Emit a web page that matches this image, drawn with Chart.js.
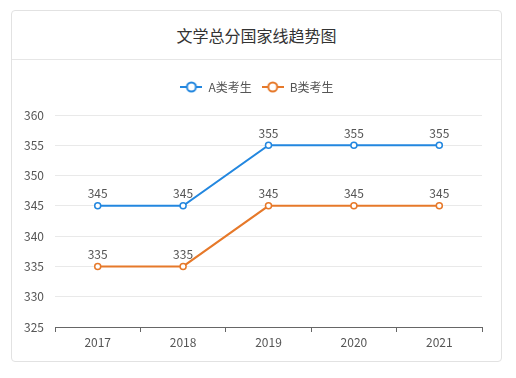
<!DOCTYPE html>
<html>
<head>
<meta charset="utf-8">
<script src="https://cdn.jsdelivr.net/npm/chart.js@4"></script>
<style>
  html, body { margin: 0; padding: 0; background: #fff; }
  body { width: 516px; height: 378px; position: relative; overflow: hidden; font-family: "Noto Sans CJK SC", sans-serif; }
  #card { position: absolute; left: 11px; top: 10px; width: 489px; height: 350px; border: 1px solid #e2e2e2; border-radius: 4px; }
  #title { height: 48px; line-height: 48px; text-align: center; font-size: 16px; color: #333; border-bottom: 1px solid #e6e6e6; }
  #wrap { position: absolute; left: 0; top: 49px; width: 489px; height: 301px; }
</style>
</head>
<body>
<div id="card">
  <div id="title">文学总分国家线趋势图</div>
  <div id="wrap"><canvas id="chart" width="489" height="301"></canvas></div>
</div>
<script>
// chart data
var years = ["2017", "2018", "2019", "2020", "2021"];
var seriesNames = ["A类考生", "B类考生"];
var scoresA = [345, 345, 355, 355, 355];
var scoresB = [335, 335, 345, 345, 345];
var colours = ["#2387df", "#e6792a"];

// legend icon: short line with a hollow circle in the middle
function legendIcon(col){
  var c = document.createElement("canvas");
  c.width = 22; c.height = 12;
  var ctx = c.getContext("2d");
  ctx.strokeStyle = col;
  ctx.lineWidth = 2;
  ctx.beginPath(); ctx.moveTo(0, 6); ctx.lineTo(22, 6); ctx.stroke();
  ctx.fillStyle = "#fff";
  ctx.beginPath(); ctx.arc(11, 6, 4.5, 0, Math.PI * 2); ctx.fill(); ctx.stroke();
  return c;
}

// draw the value above each point
var valueLabels = {
  id: "valueLabels",
  afterDatasetsDraw: function(chart){
    var ctx = chart.ctx;
    ctx.save();
    ctx.font = "12px 'Noto Sans CJK SC'";
    ctx.fillStyle = "#555";
    ctx.textAlign = "center";
    ctx.textBaseline = "bottom";
    chart.data.datasets.forEach(function(ds, i){
      chart.getDatasetMeta(i).data.forEach(function(pt, j){
        ctx.fillText(ds.data[j], pt.x, pt.y - 6);
      });
    });
    ctx.restore();
  }
};

// extra room under the legend, and centre it on the whole card
var legendGap = {
  id: "legendGap",
  beforeLayout: function(chart){
    var lg = chart.legend;
    if (lg && !lg._gapPatched) {
      var fit = lg.fit;
      lg.fit = function(){ fit.call(this); this.height += 12; };
      lg._gapPatched = true;
    }
  },
  afterLayout: function(chart){
    var lg = chart.legend;
    if (lg) { lg.left += 10; lg.right += 10; }
  }
};

var chart = new Chart(document.getElementById("chart"), {
  type: "line",
  data: {
    labels: years,
    datasets: [
      { label: seriesNames[0], data: scoresA, borderColor: colours[0], backgroundColor: "#fff" },
      { label: seriesNames[1], data: scoresB, borderColor: colours[1], backgroundColor: "#fff" }
    ]
  },
  options: {
    responsive: false,
    animation: false,
    layout: { padding: { left: 0, right: 19, top: 11, bottom: 0 } },
    elements: {
      line: { borderWidth: 2, tension: 0 },
      point: { radius: 3, borderWidth: 1.5, hoverRadius: 3 }
    },
    plugins: {
      tooltip: { enabled: false },
      legend: {
        position: "top",
        labels: {
          usePointStyle: true,
          pointStyleWidth: 22,
          font: { size: 12, family: "'Noto Sans CJK SC'" },
          color: "#555",
          padding: 10,
          generateLabels: function(ch){
            return ch.data.datasets.map(function(ds, i){
              return { text: ds.label, pointStyle: legendIcon(colours[i]), fontColor: "#555", datasetIndex: i, lineWidth: 0, strokeStyle: colours[i], fillStyle: "#fff" };
            });
          }
        }
      }
    },
    scales: {
      x: {
        offset: true,
        grid: { offset: true, drawOnChartArea: false, color: "#666", tickLength: 5 },
        border: { color: "#666" },
        ticks: { color: "#555", font: { size: 12, family: "'Noto Sans CJK SC'" }, padding: 3 },
        afterFit: function(s){ s.height = 34; }
      },
      y: {
        min: 325, max: 360,
        ticks: { stepSize: 5, color: "#555", font: { size: 12, family: "'Noto Sans CJK SC'" }, padding: 11 },
        grid: { color: "#e9e9e9", drawTicks: false },
        border: { display: false },
        afterFit: function(s){ s.width = 43; }
      }
    }
  },
  plugins: [valueLabels, legendGap]
});
</script>
</body>
</html>
